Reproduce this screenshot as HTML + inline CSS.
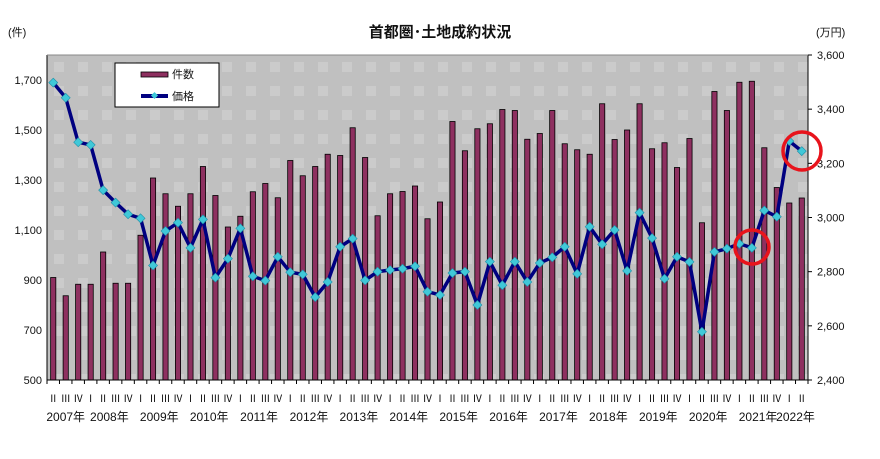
<!DOCTYPE html>
<html><head><meta charset="utf-8">
<style>
body{margin:0;background:#fff;width:880px;height:454px;overflow:hidden;font-family:"Liberation Sans","Noto Sans CJK JP",sans-serif;}
svg text{font-family:"Liberation Sans","Noto Sans CJK JP",sans-serif;}
</style></head>
<body>
<svg id="chart" width="880" height="454" xmlns="http://www.w3.org/2000/svg">
<defs>
<pattern id="dots" x="47" y="55" width="24" height="24" patternUnits="userSpaceOnUse">
<rect x="7" y="7" width="10" height="10" fill="#cbcbcb"/>
</pattern>
</defs>
<text x="440" y="37" text-anchor="middle" font-size="15" font-weight="bold" fill="#111">首都圏･土地成約状況</text>
<text x="8" y="36" font-size="11" fill="#111">(件)</text>
<text x="816" y="36" font-size="11" fill="#111">(万円)</text>
<rect x="47" y="55" width="761" height="325" fill="#c0c0c0"/>
<rect x="47" y="55" width="761" height="325" fill="url(#dots)"/>
<g id="bars"></g>
<g id="line"></g>
<g id="axes"></g>
<g>
<rect x="115" y="63" width="104" height="44" fill="#fff" stroke="#000" stroke-width="1"/>
<rect x="141" y="72" width="27" height="5" fill="#8e3060" stroke="#000" stroke-width="0.8"/>
<text x="172" y="78" font-size="11" fill="#111">件数</text>
<line x1="141" y1="96" x2="168" y2="96" stroke="#000080" stroke-width="4"/>
<rect x="152" y="93" width="5" height="5" fill="#40c8d8" transform="rotate(45 154.5 95.5)"/>
<text x="172" y="100" font-size="11" fill="#111">価格</text>
</g>
<circle cx="752" cy="247" r="17" fill="none" stroke="#e8141c" stroke-width="3.5"/>
<circle cx="802" cy="151" r="19" fill="none" stroke="#e8141c" stroke-width="3.5"/>
</svg>
<script>
const years = ["2007年","2008年","2009年","2010年","2011年","2012年","2013年","2014年","2015年","2016年","2017年","2018年","2019年","2020年","2021年","2022年"];
const counts = [910,837,883,883,1012,887,887,1079,1308,1245,1195,1245,1354,1238,1112,1155,1253,1286,1229,1378,1317,1354,1403,1398,1509,1390,1157,1245,1254,1276,1145,1212,1534,1417,1505,1525,1582,1578,1463,1486,1578,1445,1421,1403,1605,1462,1500,1605,1425,1449,1350,1466,1129,1654,1578,1691,1695,1429,1270,1208,1228];
const prices = [3498,3442,3278,3268,3101,3055,3012,2997,2823,2950,2981,2888,2993,2778,2848,2960,2783,2767,2855,2798,2790,2706,2762,2892,2922,2768,2800,2806,2811,2820,2726,2714,2795,2800,2677,2837,2750,2837,2762,2832,2853,2892,2792,2966,2901,2954,2803,3018,2924,2774,2855,2836,2578,2873,2885,2903,2888,3026,3003,3282,3245];
const leftTicks = [500,700,900,1100,1300,1500,1700];
const rightTicks = [2400,2600,2800,3000,3200,3400,3600];
const quarterNames = ["Ⅰ","Ⅱ","Ⅲ","Ⅳ"];
const firstQuarter = 1; // 2007 Q2

const NS="http://www.w3.org/2000/svg";
const X0=47,X1=808,Y0=55,Y1=380;
const n=counts.length, step=(X1-X0)/n;
const xc=i=>X0+step*(i+0.5);
const yL=v=>Y1-(v-500)/(1800-500)*(Y1-Y0);
const yR=v=>Y1-(v-2400)/(3600-2400)*(Y1-Y0);
function mk(tag,attrs,parent){const e=document.createElementNS(NS,tag);for(const k in attrs)e.setAttribute(k,attrs[k]);parent.appendChild(e);return e;}
const gb=document.getElementById('bars'),gl=document.getElementById('line'),ga=document.getElementById('axes');
counts.forEach((v,i)=>{
 const r=mk('rect',{x:xc(i)-2.6,y:yL(v),width:5.2,height:Y1-yL(v),fill:'#8e3060',stroke:'#000','stroke-width':0.8},gb);
 
 
});
const pl=mk('polyline',{points:prices.map((v,i)=>xc(i)+','+yR(v)).join(' '),fill:'none',stroke:'#000080','stroke-width':3.5,'stroke-linejoin':'round'},gl);


prices.forEach((v,i)=>{
 const x=xc(i),y=yR(v);
 const m=mk('polygon',{points:`${x},${y-4.5} ${x+4.5},${y} ${x},${y+4.5} ${x-4.5},${y}`,fill:'#40c8d8',stroke:'#2090a8','stroke-width':0.6},gl);
 
 
});
mk('line',{x1:X0,y1:Y0,x2:X0,y2:Y1,stroke:'#000'},ga);
mk('line',{x1:X1,y1:Y0,x2:X1,y2:Y1,stroke:'#000'},ga);
mk('line',{x1:X0,y1:Y1,x2:X1,y2:Y1,stroke:'#000'},ga);
mk('line',{x1:X0,y1:Y0,x2:X1,y2:Y0,stroke:'#888'},ga);
leftTicks.forEach(v=>{
 const t=mk('text',{x:42,y:yL(v)+4,'text-anchor':'end','font-size':11,fill:'#111'},ga);
 t.textContent=v.toLocaleString('en-US');
 
 
});
rightTicks.forEach(v=>{
 mk('line',{x1:X1,y1:yR(v),x2:X1+4,y2:yR(v),stroke:'#000'},ga);
 const t=mk('text',{x:817,y:yR(v)+4,'font-size':11,fill:'#111'},ga);
 t.textContent=v.toLocaleString('en-US');
 
 
});
for(let i=0;i<=n;i++){mk('line',{x1:X0+step*i,y1:Y1,x2:X0+step*i,y2:Y1+4,stroke:'#000'},ga);}
for(let i=0;i<n;i++){
 const q=(firstQuarter+i)%4;
 const t=mk('text',{x:xc(i),y:402,'text-anchor':'middle','font-size':10,'font-family':'"Liberation Serif","Noto Serif CJK SC",serif',fill:'#111'},ga);
 t.textContent=quarterNames[q];
 
 
}
years.forEach((yname,k)=>{
 const idx=[];for(let i=0;i<n;i++){if(Math.floor((firstQuarter+i)/4)===k)idx.push(i);}
 if(!idx.length)return;
 const cx=(xc(idx[0])+xc(idx[idx.length-1]))/2;
 const t=mk('text',{x:cx,y:421,'text-anchor':'middle','font-size':12,fill:'#111'},ga);
 t.textContent=yname;
 
 
});
</script>
</body></html>
